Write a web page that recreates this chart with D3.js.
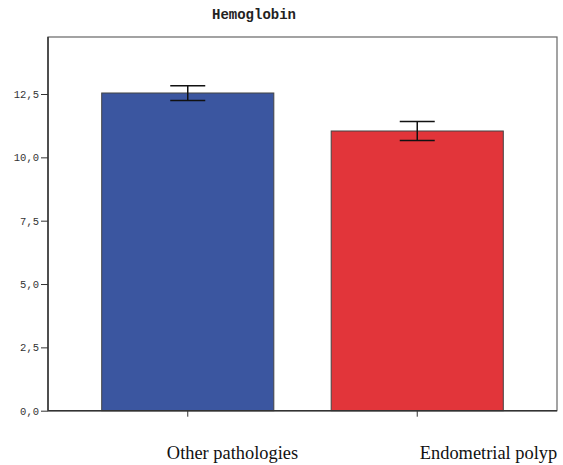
<!DOCTYPE html>
<html><head><meta charset="utf-8">
<script src="https://cdn.jsdelivr.net/npm/d3@7"></script>
<style>body{margin:0;background:#fff;}svg{display:block;}</style>
</head><body>
<script>
const categories = ["Other pathologies", "Endometrial polyp"];
const means = [12.54, 11.04];
const errLow = [12.24, 10.66];
const errHigh = [12.83, 11.41];
const colors = ["#3b56a0", "#e2353a"];
const yTicks = [0, 2.5, 5, 7.5, 10, 12.5];
const title = "Hemoglobin";

(function () {
const W = 563, H = 465;
const mLeft = 48, mRight = 557, mTop = 37, mBottom = 410.7;
const svg = d3.select("body").append("svg").attr("width", W).attr("height", H);

const y = d3.scaleLinear().domain([0, 14.75]).range([mBottom, mTop]);
const x = d3.scaleBand().domain(categories).range([mLeft, mRight]).paddingInner(0.25).paddingOuter(0.234);

// frame
svg.append("rect").attr("x", mLeft).attr("y", mTop).attr("width", mRight - mLeft).attr("height", mBottom - mTop)
  .attr("fill", "none").attr("stroke", "#666").attr("stroke-width", 1.2);

// bars
svg.selectAll("rect.bar").data(categories).enter().append("rect").attr("class", "bar")
  .attr("x", d => x(d)).attr("width", x.bandwidth())
  .attr("y", (d, i) => y(means[i])).attr("height", (d, i) => y(0) - y(means[i]))
  .attr("fill", (d, i) => colors[i]).attr("stroke", "#444").attr("stroke-width", 1);

// error bars
const cap = 17.5;
const eb = svg.selectAll("g.eb").data(categories).enter().append("g").attr("stroke", "#111").attr("stroke-width", 1.5);
eb.append("line").attr("x1", d => x(d) + x.bandwidth() / 2).attr("x2", d => x(d) + x.bandwidth() / 2)
  .attr("y1", (d, i) => y(errLow[i])).attr("y2", (d, i) => y(errHigh[i]));
eb.append("line").attr("x1", d => x(d) + x.bandwidth() / 2 - cap).attr("x2", d => x(d) + x.bandwidth() / 2 + cap)
  .attr("y1", (d, i) => y(errLow[i])).attr("y2", (d, i) => y(errLow[i]));
eb.append("line").attr("x1", d => x(d) + x.bandwidth() / 2 - cap).attr("x2", d => x(d) + x.bandwidth() / 2 + cap)
  .attr("y1", (d, i) => y(errHigh[i])).attr("y2", (d, i) => y(errHigh[i]));

// y axis
const yAxis = d3.axisLeft(y).tickValues(yTicks).tickSize(7).tickPadding(2)
  .tickFormat(d => d3.format(".1f")(d).replace(".", ","));
const gy = svg.append("g").attr("transform", `translate(${mLeft},0)`).call(yAxis);
gy.select(".domain").remove();
gy.append("line").attr("x1", 0).attr("x2", 0).attr("y1", mTop).attr("y2", mBottom).attr("stroke", "#333").attr("stroke-width", 1.5);
gy.selectAll(".tick line").attr("stroke", "#333");
gy.selectAll(".tick text").attr("font-family", "'Liberation Mono', monospace").attr("font-size", 10.5).attr("fill", "#333");

// x axis ticks
const xAxis = d3.axisBottom(x).tickSize(6).tickFormat("");
const gx = svg.append("g").attr("transform", `translate(0,${mBottom})`).call(xAxis);
gx.select(".domain").remove();
svg.append("line").attr("x1", mLeft).attr("x2", mRight).attr("y1", mBottom).attr("y2", mBottom).attr("stroke", "#333").attr("stroke-width", 1.5);
gx.selectAll(".tick line").attr("stroke", "#333");

// x labels (offset as in reference)
const labelX = [232.5, 488.5];
svg.selectAll("text.xl").data(categories).enter().append("text").attr("class", "xl")
  .attr("x", (d, i) => labelX[i]).attr("y", 459).attr("text-anchor", "middle")
  .attr("font-family", "'Liberation Serif', 'Times New Roman', serif").attr("font-size", 18.4).attr("fill", "#111")
  .text(d => d);

// title
svg.append("text").attr("x", 254).attr("y", 19).attr("text-anchor", "middle")
  .attr("font-family", "'Liberation Mono', 'Courier New', monospace").attr("font-weight", "bold").attr("font-size", 14)
  .attr("fill", "#222").text(title);
})();
</script>
</body></html>
